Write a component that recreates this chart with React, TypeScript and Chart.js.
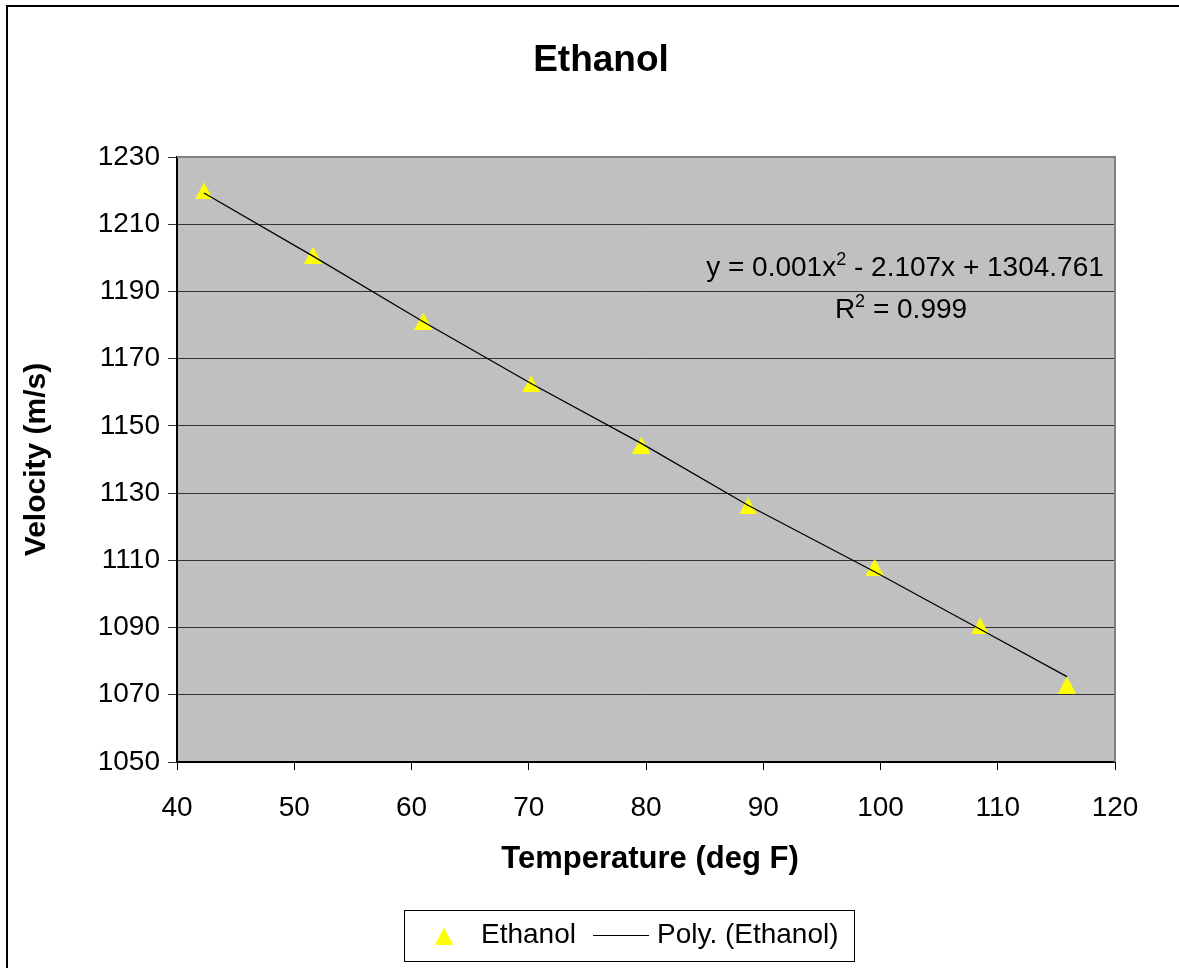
import React, { useEffect, useRef } from "react";
import { Chart, registerables } from "chart.js";
Chart.register(...registerables);

// Data
const temperatureF = [42.3, 51.6, 61.0, 70.2, 79.6, 88.7, 99.5, 108.5, 115.9];
const velocity = [1219.9, 1200.8, 1181.2, 1162.5, 1144.3, 1126.2, 1108.0, 1090.5, 1072.9];
const trendX = [42.3, 51.6, 61.0, 70.2, 79.6, 88.7, 99.5, 108.5, 115.9];
const trendY = [1219.3, 1200.5, 1181.0, 1162.6, 1144.8, 1126.4, 1106.6, 1089.5, 1075.4];
const xMin = 40, xMax = 120, xStep = 10;
const yMin = 1050, yMax = 1230, yStep = 20;
const titleText = "Ethanol";
const xTitle = "Temperature (deg F)";
const yTitle = "Velocity (m/s)";
const seriesName = "Ethanol";
const trendName = "Poly. (Ethanol)";
const eqParts = ["y = 0.001x", "2", " - 2.107x + 1304.761"];
const r2Parts = ["R", "2", " = 0.999"];

const FONT = "'Liberation Sans', Arial, sans-serif";

function makeTriangle(): HTMLCanvasElement {
  const c = document.createElement("canvas");
  c.width = 18;
  c.height = 17;
  const g = c.getContext("2d")!;
  g.fillStyle = "#FFFF00";
  g.beginPath();
  g.moveTo(9, 0);
  g.lineTo(18, 17);
  g.lineTo(0, 17);
  g.closePath();
  g.fill();
  return c;
}

function drawSuper(ctx: CanvasRenderingContext2D, parts: string[], cx: number, baseline: number) {
  const big = `28px ${FONT}`;
  const small = `18px ${FONT}`;
  ctx.font = big;
  const w0 = ctx.measureText(parts[0]).width;
  const w2 = ctx.measureText(parts[2]).width;
  ctx.font = small;
  const w1 = ctx.measureText(parts[1]).width;
  const total = w0 + w1 + w2;
  let x = cx - total / 2;
  ctx.textAlign = "left";
  ctx.textBaseline = "alphabetic";
  ctx.fillStyle = "#000";
  ctx.font = big;
  ctx.fillText(parts[0], x, baseline);
  x += w0;
  ctx.font = small;
  ctx.fillText(parts[1], x, baseline - 11);
  x += w1;
  ctx.font = big;
  ctx.fillText(parts[2], x, baseline);
}

export default function App() {
  const ref = useRef<HTMLCanvasElement | null>(null);
  useEffect(() => {
    if (!ref.current) return;
    const tri = makeTriangle();
    const decor = {
      id: "decor",
      beforeDraw(chart: any) {
        const { ctx, chartArea: a, width, height } = chart;
        ctx.save();
        ctx.fillStyle = "#fff";
        ctx.fillRect(0, 0, width, height);
        ctx.fillStyle = "#C0C0C0";
        ctx.fillRect(a.left, a.top, a.right - a.left, a.bottom - a.top);
        ctx.strokeStyle = "#000";
        ctx.lineWidth = 2;
        ctx.beginPath();
        ctx.moveTo(7, height);
        ctx.lineTo(7, 6);
        ctx.lineTo(width, 6);
        ctx.stroke();
        ctx.restore();
      },
      afterDraw(chart: any) {
        const { ctx, chartArea: a } = chart;
        ctx.save();
        ctx.strokeStyle = "#808080";
        ctx.lineWidth = 2;
        ctx.beginPath();
        ctx.moveTo(a.left, a.top);
        ctx.lineTo(a.right, a.top);
        ctx.lineTo(a.right, a.bottom);
        ctx.stroke();
        ctx.fillStyle = "#000";
        ctx.textAlign = "center";
        ctx.textBaseline = "middle";
        ctx.font = `bold 37px ${FONT}`;
        ctx.fillText(titleText, 601, 61);
        ctx.font = `bold 31px ${FONT}`;
        ctx.fillText(xTitle, 650, 859);
        ctx.save();
        ctx.translate(37, (a.top + a.bottom) / 2);
        ctx.rotate(-Math.PI / 2);
        ctx.font = `bold 30px ${FONT}`;
        ctx.fillText(yTitle, 0, 0);
        ctx.restore();
        drawSuper(ctx, eqParts, 905, 276);
        drawSuper(ctx, r2Parts, 901, 318);
        ctx.fillStyle = "#fff";
        ctx.fillRect(404, 910, 450, 51);
        ctx.strokeStyle = "#000";
        ctx.lineWidth = 1;
        ctx.strokeRect(404.5, 910.5, 450, 51);
        ctx.drawImage(tri, 444 - 9, 936 - 8.5);
        ctx.fillStyle = "#000";
        ctx.font = `28px ${FONT}`;
        ctx.textAlign = "left";
        ctx.textBaseline = "middle";
        ctx.fillText(seriesName, 481, 935);
        ctx.beginPath();
        ctx.lineWidth = 1.2;
        ctx.moveTo(593, 935.5);
        ctx.lineTo(649, 935.5);
        ctx.stroke();
        ctx.fillText(trendName, 657, 935);
        ctx.restore();
      },
    };

    const chart = new Chart(ref.current, {
      type: "scatter",
      data: {
        datasets: [
          {
            type: "line",
            label: trendName,
            data: trendX.map((x, i) => ({ x, y: trendY[i] })),
            borderColor: "#000",
            borderWidth: 1.3,
            pointRadius: 0,
            fill: false,
            tension: 0,
          } as any,
          {
            label: seriesName,
            data: temperatureF.map((x, i) => ({ x, y: velocity[i] })),
            pointStyle: tri,
            pointRadius: 9,
            backgroundColor: "#FFFF00",
            borderColor: "#FFFF00",
          } as any,
        ],
      },
      options: {
        responsive: false,
        animation: false,
        devicePixelRatio: 1,
        layout: { padding: { top: 157, right: 64, left: 0, bottom: 0 } },
        plugins: {
          legend: { display: false },
          title: { display: false },
          tooltip: { enabled: false },
        },
        scales: {
          x: {
            type: "linear",
            min: xMin,
            max: xMax,
            afterFit: (s: any) => {
              s.height = 206;
            },
            ticks: {
              stepSize: xStep,
              autoSkip: false,
              maxRotation: 0,
              color: "#000",
              font: { family: FONT, size: 28 },
              padding: 21,
              callback: (v: any) => String(v),
            },
            grid: { drawOnChartArea: false, color: "#000", tickLength: 8, lineWidth: 1 },
            border: { display: true, color: "#000", width: 2 },
          },
          y: {
            type: "linear",
            min: yMin,
            max: yMax,
            afterFit: (s: any) => {
              s.width = 177;
            },
            ticks: {
              stepSize: yStep,
              autoSkip: false,
              color: "#000",
              font: { family: FONT, size: 28 },
              padding: 8,
              callback: (v: any) => String(v),
            },
            grid: { color: "#333", tickLength: 9, lineWidth: 1 },
            border: { display: true, color: "#000", width: 2 },
          },
        },
      } as any,
      plugins: [decor],
    });
    return () => chart.destroy();
  }, []);

  return (
    <div style={{ position: "absolute", left: 0, top: 0, width: 1179, height: 968 }}>
      <canvas ref={ref} width={1179} height={968} style={{ width: 1179, height: 968, display: "block" }} />
    </div>
  );
}
